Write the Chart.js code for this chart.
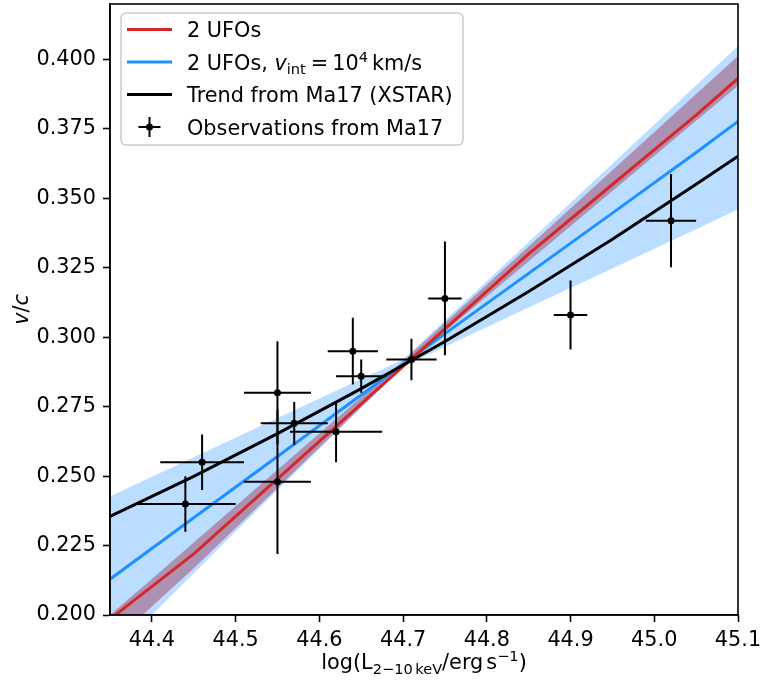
<!DOCTYPE html>
<html>
<head>
<meta charset="utf-8">
<script src="https://cdn.jsdelivr.net/npm/chart.js@4.4.1/dist/chart.umd.min.js"></script>
<style>
  body { margin: 0; background: #fff; }
  canvas { display: block; }
</style>
</head>
<body>
<canvas id="chartUfo" width="762" height="681"></canvas>
<script>
// axis ticks
var xTicks = [44.4, 44.5, 44.6, 44.7, 44.8, 44.9, 45.0, 45.1];
var yTicks = [0.200, 0.225, 0.250, 0.275, 0.300, 0.325, 0.350, 0.375, 0.400];

// model curves
var lineX = [44.35, 44.45, 44.55, 44.65, 44.75, 44.85, 44.95, 45.05, 45.10];
var ufoRed = [0.1985, 0.2220, 0.2490, 0.2760, 0.3030, 0.3300, 0.3550, 0.3800, 0.3932];
var ufoBlue = [0.2129, 0.2350, 0.2571, 0.2792, 0.3013, 0.3230, 0.3447, 0.3665, 0.3777];
var trendMa17 = [0.2355, 0.2499, 0.2653, 0.2815, 0.2985, 0.3165, 0.3353, 0.3551, 0.3652];

// uncertainty bands
var bandX = [44.35, 44.40, 44.45, 44.55, 44.65, 44.70, 44.75, 44.85, 44.95, 45.05, 45.10];
var redHigh = [0.2000, 0.2130, 0.2261, 0.2523, 0.2784, 0.2915, 0.3052, 0.3327, 0.3601, 0.3876, 0.4013];
var redLow = [0.1893, 0.2031, 0.2168, 0.2457, 0.2749, 0.2895, 0.3021, 0.3274, 0.3527, 0.3780, 0.3906];
var blueHigh = [0.2427, 0.2498, 0.2568, 0.2709, 0.2850, 0.2920, 0.3061, 0.3343, 0.3625, 0.3907, 0.4049];
var blueLow = [0.1850, 0.2000, 0.2150, 0.2450, 0.2745, 0.2895, 0.2966, 0.3107, 0.3248, 0.3389, 0.3461];

// Ma17 observations
var obsX = [44.44, 44.46, 44.55, 44.55, 44.57, 44.62, 44.64, 44.65, 44.71, 44.75, 44.90, 45.02];
var obsY = [0.240, 0.255, 0.280, 0.248, 0.269, 0.266, 0.295, 0.286, 0.292, 0.314, 0.308, 0.342];
var obsXErr = [0.06, 0.05, 0.04, 0.04, 0.04, 0.055, 0.03, 0.03, 0.03, 0.02, 0.02, 0.03];
var obsYErr = [0.010, 0.010, 0.0186, 0.026, 0.0077, 0.011, 0.012, 0.006, 0.0075, 0.0205, 0.0124, 0.0168];

var FONT = '"DejaVu Sans", sans-serif';
var FS = 20.8;
var RED = '#d62728';
var BLUE = '#1e90ff';

function pairs(xs, ys) {
  return xs.map(function (x, i) { return { x: x, y: ys[i] }; });
}

// draws a list of text runs (mathtext-like) starting at x on a baseline
function runsWidth(ctx, runs) {
  var w = 0;
  runs.forEach(function (r) {
    if (r.gap) { w += r.gap; return; }
    ctx.font = r.f;
    w += ctx.measureText(r.t).width;
  });
  return w;
}
function drawRuns(ctx, runs, x, y) {
  runs.forEach(function (r) {
    if (r.gap) { x += r.gap; return; }
    ctx.font = r.f;
    ctx.fillText(r.t, x, y + (r.dy || 0));
    x += ctx.measureText(r.t).width;
  });
}

var R = FS + 'px ' + FONT;
var I = 'italic ' + FS + 'px ' + FONT;
var S = (FS * 0.7).toFixed(1) + 'px ' + FONT;

var extras = {
  id: 'extras',
  afterDatasetsDraw: function (chart) {
    var ctx = chart.ctx, x = chart.scales.x, y = chart.scales.y;
    ctx.save();
    ctx.strokeStyle = '#000';
    ctx.lineWidth = 2;
    obsX.forEach(function (v, i) {
      var px = x.getPixelForValue(v), py = y.getPixelForValue(obsY[i]);
      ctx.beginPath();
      ctx.moveTo(x.getPixelForValue(v - obsXErr[i]), py);
      ctx.lineTo(x.getPixelForValue(v + obsXErr[i]), py);
      ctx.moveTo(px, y.getPixelForValue(obsY[i] - obsYErr[i]));
      ctx.lineTo(px, y.getPixelForValue(obsY[i] + obsYErr[i]));
      ctx.stroke();
    });
    ctx.restore();
  },
  afterDraw: function (chart) {
    var ctx = chart.ctx, a = chart.chartArea;
    ctx.save();

    // frame
    ctx.strokeStyle = '#000';
    ctx.lineWidth = 1.6;
    ctx.strokeRect(a.left, a.top, a.right - a.left, a.bottom - a.top);

    // legend
    var bx = 121, by = 13, bw = 342, bh = 132, rad = 5;
    ctx.beginPath();
    ctx.moveTo(bx + rad, by);
    ctx.arcTo(bx + bw, by, bx + bw, by + bh, rad);
    ctx.arcTo(bx + bw, by + bh, bx, by + bh, rad);
    ctx.arcTo(bx, by + bh, bx, by, rad);
    ctx.arcTo(bx, by, bx + bw, by, rad);
    ctx.closePath();
    ctx.fillStyle = 'rgba(255,255,255,0.8)';
    ctx.fill();
    ctx.strokeStyle = '#cccccc';
    ctx.lineWidth = 1.5;
    ctx.stroke();

    var rows = [29.5, 62, 94.5, 127];
    var hx0 = 127, hx1 = 172, tx = 187;
    [RED, BLUE, '#000'].forEach(function (c, i) {
      ctx.strokeStyle = c;
      ctx.lineWidth = 3;
      ctx.beginPath();
      ctx.moveTo(hx0, rows[i]);
      ctx.lineTo(hx1, rows[i]);
      ctx.stroke();
    });
    var cx = (hx0 + hx1) / 2;
    ctx.strokeStyle = '#000';
    ctx.lineWidth = 2;
    ctx.beginPath();
    ctx.moveTo(cx - 11, rows[3]); ctx.lineTo(cx + 11, rows[3]);
    ctx.moveTo(cx, rows[3] - 10); ctx.lineTo(cx, rows[3] + 10);
    ctx.stroke();
    ctx.fillStyle = '#000';
    ctx.beginPath();
    ctx.arc(cx, rows[3], 3.5, 0, Math.PI * 2);
    ctx.fill();

    ctx.textBaseline = 'alphabetic';
    ctx.textAlign = 'left';
    ctx.fillStyle = '#000';
    drawRuns(ctx, [{ t: '2 UFOs', f: R }], tx, rows[0] + 7.5);
    drawRuns(ctx, [
      { t: '2 UFOs, ', f: R },
      { t: 'v', f: I },
      { t: 'int', f: S, dy: 4 },
      { gap: 5 },
      { t: '=', f: R },
      { gap: 4 },
      { t: '10', f: R },
      { t: '4', f: S, dy: -8 },
      { gap: 4 },
      { t: 'km/s', f: R }
    ], tx, rows[1] + 7.5);
    drawRuns(ctx, [{ t: 'Trend from Ma17 (XSTAR)', f: R }], tx, rows[2] + 7.5);
    drawRuns(ctx, [{ t: 'Observations from Ma17', f: R }], tx, rows[3] + 7.5);

    // x axis title
    var xRuns = [
      { t: 'log(L', f: R },
      { t: '2\u221210', f: S, dy: 5 },
      { gap: 2.5 },
      { t: 'keV', f: S, dy: 5 },
      { t: '/erg', f: R },
      { gap: 3 },
      { t: 's', f: R },
      { t: '\u22121', f: S, dy: -8 },
      { t: ')', f: R }
    ];
    var xw = runsWidth(ctx, xRuns);
    drawRuns(ctx, xRuns, (a.left + a.right) / 2 - xw / 2, 669);

    // y axis title
    var yRuns = [{ t: 'v', f: I }, { t: '/', f: R }, { t: 'c', f: I }];
    var yw = runsWidth(ctx, yRuns);
    ctx.translate(28, (a.top + a.bottom) / 2);
    ctx.rotate(-Math.PI / 2);
    drawRuns(ctx, yRuns, -yw / 2, 0);

    ctx.restore();
  }
};

var ctxUfo = document.getElementById('chartUfo').getContext('2d');
var chart = new Chart(ctxUfo, {
  type: 'scatter',
  data: {
    datasets: [
      {
        label: 'Observations from Ma17',
        data: pairs(obsX, obsY),
        backgroundColor: '#000',
        borderWidth: 0,
        pointRadius: 3.5,
        order: 0
      },
      {
        label: 'Trend from Ma17 (XSTAR)',
        data: pairs(lineX, trendMa17),
        showLine: true,
        borderColor: '#000',
        borderWidth: 3,
        pointRadius: 0,
        order: 1
      },
      {
        label: '2 UFOs',
        data: pairs(lineX, ufoRed),
        showLine: true,
        borderColor: RED,
        borderWidth: 3,
        pointRadius: 0,
        order: 2
      },
      {
        label: '2 UFOs, v_int = 10^4 km/s',
        data: pairs(lineX, ufoBlue),
        showLine: true,
        borderColor: BLUE,
        borderWidth: 3,
        pointRadius: 0,
        order: 3
      },
      {
        label: 'blue band high',
        data: pairs(bandX, blueHigh),
        showLine: true,
        borderWidth: 0,
        borderColor: 'rgba(0,0,0,0)',
        pointRadius: 0,
        fill: 5,
        backgroundColor: 'rgba(30,144,255,0.3)',
        order: 4
      },
      {
        label: 'blue band low',
        data: pairs(bandX, blueLow),
        showLine: true,
        borderWidth: 0,
        borderColor: 'rgba(0,0,0,0)',
        pointRadius: 0,
        order: 5
      },
      {
        label: 'red band high',
        data: pairs(bandX, redHigh),
        showLine: true,
        borderWidth: 0,
        borderColor: 'rgba(0,0,0,0)',
        pointRadius: 0,
        fill: 7,
        backgroundColor: 'rgba(214,39,40,0.5)',
        order: 6
      },
      {
        label: 'red band low',
        data: pairs(bandX, redLow),
        showLine: true,
        borderWidth: 0,
        borderColor: 'rgba(0,0,0,0)',
        pointRadius: 0,
        order: 7
      }
    ]
  },
  options: {
    responsive: false,
    animation: false,
    devicePixelRatio: 1,
    layout: { padding: { top: 2, right: 24, left: 0, bottom: 0 } },
    plugins: {
      legend: { display: false },
      tooltip: { enabled: false }
    },
    scales: {
      x: {
        type: 'linear',
        min: 44.35,
        max: 45.1,
        afterBuildTicks: function (s) { s.ticks = xTicks.map(function (v) { return { value: v }; }); },
        afterFit: function (s) { s.height = 66; s.paddingLeft = 0; s.paddingRight = 0; },
        ticks: {
          autoSkip: false,
          maxRotation: 0,
          padding: 6,
          color: '#000',
          font: { family: FONT, size: FS },
          callback: function (v) { return v.toFixed(1); }
        },
        grid: { drawOnChartArea: false, drawTicks: true, tickLength: 7, tickWidth: 1.6, tickColor: '#000' },
        border: { display: true, color: '#000', width: 1.6 }
      },
      y: {
        type: 'linear',
        min: 0.2,
        max: 0.42,
        afterBuildTicks: function (s) { s.ticks = yTicks.map(function (v) { return { value: v }; }); },
        afterFit: function (s) { s.width = 110; s.paddingTop = 0; s.paddingBottom = 0; },
        ticks: {
          autoSkip: false,
          padding: 7,
          color: '#000',
          font: { family: FONT, size: FS },
          callback: function (v) { return v.toFixed(3); }
        },
        grid: { drawOnChartArea: false, drawTicks: true, tickLength: 7, tickWidth: 1.6, tickColor: '#000' },
        border: { display: true, color: '#000', width: 1.6 }
      }
    }
  },
  plugins: [extras]
});
</script>
</body>
</html>
